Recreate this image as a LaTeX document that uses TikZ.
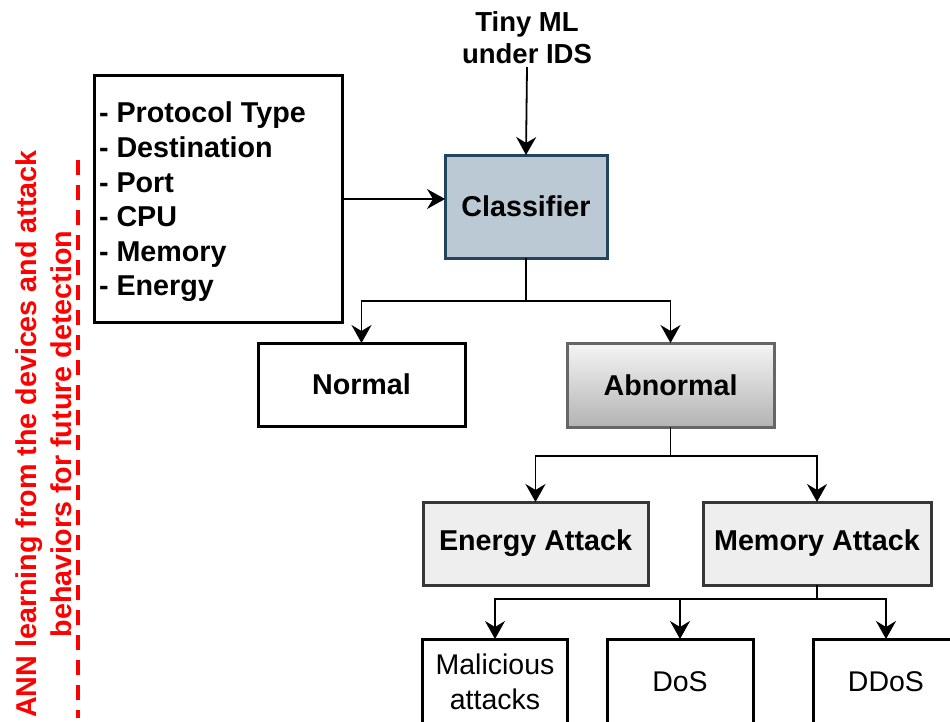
\documentclass[tikz,border=0pt]{standalone}
\usepackage{fontspec}
\setmainfont{Liberation Sans}
\usetikzlibrary{arrows.meta}
\definecolor{clsfill}{RGB}{187,201,212}
\definecolor{clsdraw}{RGB}{35,68,93}
\definecolor{gtop}{RGB}{245,245,245}
\definecolor{gbot}{RGB}{179,179,179}
\definecolor{gborder}{RGB}{102,102,102}
\definecolor{atkfill}{RGB}{238,238,238}
\definecolor{atkdraw}{RGB}{54,54,54}
\tikzset{
  every node/.style={inner sep=0pt, outer sep=0pt},
  big/.style={font=\fontsize{28.7}{34.6}\selectfont\bfseries},
  reg/.style={font=\fontsize{28.5}{34.5}\selectfont},
  blackbox/.style={draw=black, line width=3pt, fill=white, align=center},
  conn/.style={line width=1.8pt, -{Stealth[length=18pt,width=20pt,inset=6pt]}},
  plain/.style={line width=1.8pt},
}
\begin{document}
\begin{tikzpicture}[x=1pt,y=-1pt]
\useasboundingbox (0,0) rectangle (950,721);
\clip (0,0) rectangle (950,721);
\fill[white] (0,0) rectangle (950,721);

% feature box
\node[blackbox, minimum width=248pt, minimum height=247pt] (feat) at (218,198.5) {};
\node[big, anchor=west, align=left] (feattxt) at (99,202)
  {- Protocol Type\\- Destination\\- Port\\- CPU\\- Memory\\- Energy};

% title
\node[font=\fontsize{27.5}{32}\selectfont\bfseries, align=center] (title) at (527,38) {Tiny ML\\under IDS};

% classifier
\node[big, draw=clsdraw, fill=clsfill, line width=3pt, minimum width=162pt, minimum height=103pt] (cls) at (526,206.5) {Classifier};

% normal / abnormal
\node[big, blackbox, minimum width=207pt, minimum height=83pt] (normal) at (361.5,384.5) {Normal};
\node[big, draw=gborder, top color=gtop, bottom color=gbot, line width=3pt, minimum width=207pt, minimum height=84pt] (abn) at (670.5,385) {Abnormal};

% attacks
\node[big, draw=atkdraw, fill=atkfill, line width=3pt, minimum width=225pt, minimum height=83pt] (energy) at (535.5,543.5) {Energy Attack};
\node[big, draw=atkdraw, fill=atkfill, line width=3pt, minimum width=228pt, minimum height=83pt] (memory) at (817,543.5) {Memory Attack};

% bottom
\node[reg, blackbox, minimum width=145pt, minimum height=86pt, align=center] (mal) at (495,682) {Malicious\\attacks};
\node[reg, blackbox, minimum width=146pt, minimum height=86pt] (dos) at (680,682) {DoS};
\node[reg, blackbox, minimum width=146pt, minimum height=86pt] (ddos) at (886,682) {DDoS};

% connectors
\coordinate (tstart) at (527,67);
\draw[conn] (tstart) -- (cls.north);
\draw[conn] (feat.east |- 0,199) -- (cls.west |- 0,199);
\coordinate (b1) at (526,301);
\draw[plain] (cls.south) -- (b1);
\draw[conn] (b1) -| (normal.north);
\draw[conn] (b1) -| (abn.north);
\coordinate (b2) at (670.5,456);
\draw[plain] (abn.south) -- (b2);
\draw[conn] (b2) -| (energy.north);
\draw[conn] (b2) -| (memory.north);
\coordinate (b3) at (817,599);
\draw[plain] (memory.south) -- (b3);
\draw[conn] (b3) -| (mal.north);
\draw[conn] (b3) -| (dos.north);
\draw[conn] (b3) -| (ddos.north);

% red side note
\node[big, text=red, rotate=90, align=center] (note) at (44,434) {ANN learning from the devices and attack\\behaviors for future detection};
\coordinate (d1) at (78,160);
\coordinate (d2) at (78,718);
\draw[red, line width=3.5pt, dash pattern=on 15pt off 10pt] (d1) -- (d2);
\end{tikzpicture}
\end{document}
